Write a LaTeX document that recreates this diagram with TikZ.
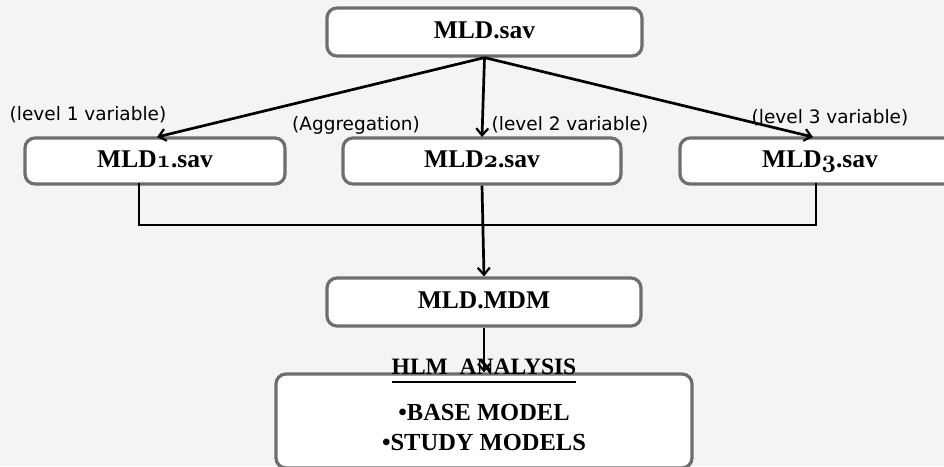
\documentclass[tikz,border=0pt]{standalone}
\usepackage{fontspec}
\setmainfont{Liberation Serif}
\newfontfamily\labelfont{DejaVu Sans}
\usetikzlibrary{arrows.meta}
% old-style figures taken from the bold math italic font
\newcommand\osnum[1]{{\usefont{OML}{cmm}{b}{it}#1}}
\definecolor{boxgrey}{HTML}{6E6E6E}
\definecolor{paper}{HTML}{F4F4F4}
\tikzset{
  filebox/.style={draw=boxgrey, line width=3.2pt, rounded corners=10pt, fill=white,
    inner sep=0pt, text height=17pt, text depth=4pt,
    font=\bfseries\fontsize{25.5}{28}\selectfont},
  tag/.style={inner sep=0pt, font=\labelfont\fontsize{18.5}{21}\selectfont},
  link/.style={line width=2.7pt, black},
  flow/.style={link, -{Straight Barb[length=7pt,width=12pt,line width=2.2pt]}},
}
\begin{document}
\begin{tikzpicture}[x=1pt, y=-1pt]
\useasboundingbox (0,0) rectangle (944,466);
\fill[paper] (0,0) rectangle (944,466);
\clip (0,0) rectangle (944,466);

% files
\node[filebox, minimum width=315pt, minimum height=48pt] (top) at (484.5,32) {MLD.sav};
\node[filebox, minimum width=260pt, minimum height=46pt] (m1) at (155,161) {MLD\osnum{1}.sav};
\node[filebox, minimum width=278pt, minimum height=46pt] (m2) at (482,161) {MLD\osnum{2}.sav};
\node[filebox, minimum width=280pt, minimum height=46pt] (m3) at (820,161) {MLD\osnum{3}.sav};
\node[filebox, minimum width=314pt, minimum height=48pt] (mdm) at (484,302) {MLD.MDM};
\node[filebox, minimum width=416pt, minimum height=94pt, text height=, text depth=] (hlm) at (484,421) {};

% labels on the split arrows
\node[tag] (l1) at (88,115) {(level 1 variable)};
\node[tag] (agg) at (356,125) {(Aggregation)};
\node[tag] (l2) at (570,125) {(level 2 variable)};
\node[tag] (l3) at (830,118) {(level 3 variable)};

% split of the source file
\coordinate (t1) at (157,137);
\coordinate (t2) at (482,137);
\coordinate (t3) at (813,137);
\draw[flow] (top.south) -- (t1);
\draw[flow] (top.south) -- (t2);
\draw[flow] (top.south) -- (t3);

% merge into the MDM file
\coordinate (b1) at (139,184);
\coordinate (b3) at (816,184);
\coordinate (j1) at (139,225);
\coordinate (j3) at (816,225);
\draw[link, line cap=rect] (b1) -- (j1) -- (j3) -- (b3);
\draw[flow] (m2.south) -- (mdm.north);
\draw[flow] (mdm.south) -- (mdm.south |- hlm.north);

% analysis box
\node[inner sep=0pt, anchor=base, font=\bfseries\fontsize{23.5}{26}\selectfont]
  (title) at (484,374) {HLM\ \ ANALYSIS};
\draw[line width=1.6pt] ([yshift=-8pt]title.base west) -- ([yshift=-8pt]title.base east);
\node[inner sep=0pt, align=center, font=\bfseries\fontsize{24.5}{30}\selectfont]
  (models) at (484,428) {•BASE MODEL\\•STUDY MODELS};
\end{tikzpicture}
\end{document}
